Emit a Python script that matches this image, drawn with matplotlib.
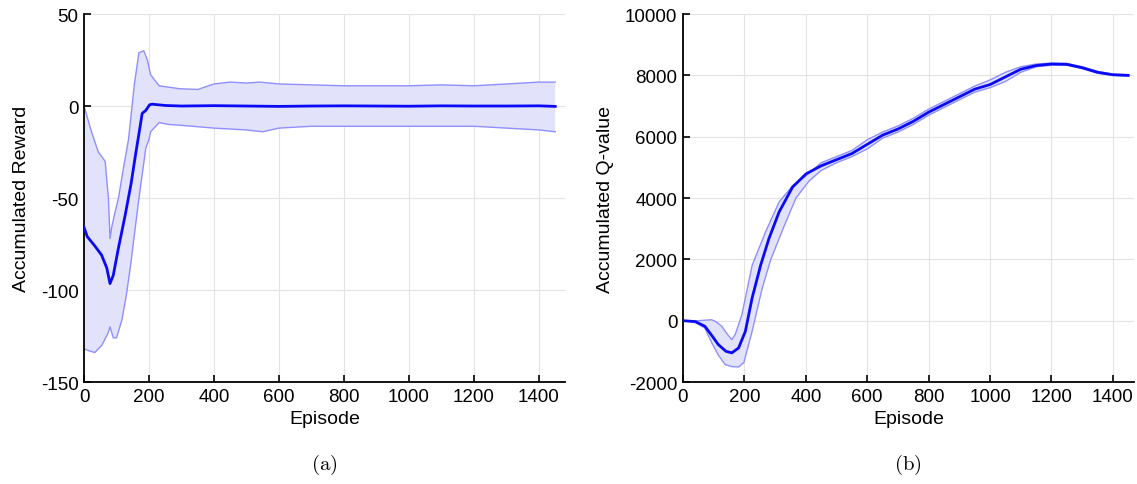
import matplotlib.pyplot as plt
import numpy as np

# (a) accumulated reward: mean curve and band edges
rew_ep = [0, 10, 33, 54, 70, 80, 90, 105, 127, 145, 158, 170, 179, 190, 202, 210,
          250, 300, 400, 500, 600, 700, 800, 900, 1000, 1100, 1200, 1300, 1400, 1450]
rew_mean = [-66, -71, -76, -81, -88, -96.5, -92, -78, -59, -42, -27, -14, -4, -2.4, 0.7, 1,
            0.3, 0, 0.2, 0, -0.2, 0, 0.1, 0, -0.1, 0.1, 0, 0, 0.1, -0.2]

up_ep = [0, 23, 44, 65, 75, 80, 85, 95, 106, 120, 137, 155, 169, 184, 195, 205,
         231, 294, 350, 400, 450, 500, 540, 600, 700, 800, 900, 1000, 1100,
         1200, 1300, 1400, 1450]
rew_upper = [0, -14, -25, -30, -50, -72, -66, -58, -50, -35, -18, 12, 29, 30, 25, 17,
             11, 9.4, 9, 12, 13, 12.5, 13, 12, 11.5, 11, 11, 11, 11.5,
             11, 12, 13, 13]

lo_ep = [0, 15, 33, 55, 75, 80, 90, 100, 117, 130, 143, 155, 169, 180, 190, 200, 205,
         231, 260, 300, 400, 500, 550, 600, 700, 800, 900, 1000, 1100, 1200, 1300, 1400, 1450]
rew_lower = [-132, -133, -134, -130, -123, -120, -126, -126, -116, -103, -87, -70, -50,
             -36, -23, -18, -14, -9, -10, -10.5, -12, -13, -14, -12, -11, -11, -11, -11,
             -11, -11, -12, -13, -14]

# (b) accumulated Q-value
q_ep = [0, 40, 71, 95, 115, 140, 159, 181, 203, 225, 253, 280, 313, 357, 401,
        450, 500, 550, 600, 650, 700, 750, 800, 850, 900, 950, 1000, 1050, 1100,
        1150, 1200, 1250, 1300, 1350, 1400, 1450]
q_mean = [0, -30, -180, -500, -780, -1000, -1050, -890, -350, 735, 1815, 2680, 3545, 4360,
          4790, 5050, 5250, 5450, 5750, 6050, 6250, 6500, 6800, 7050, 7300, 7550,
          7700, 7950, 8200, 8320, 8370, 8360, 8250, 8100, 8020, 8000]

qu_ep = [0, 50, 93, 110, 126, 145, 159, 170, 192, 225, 269, 313, 357, 401, 450,
         500, 550, 600, 650, 700, 750, 800, 850, 900, 950, 1000, 1050, 1100, 1150,
         1200, 1250, 1300, 1350, 1400, 1450]
q_upper = [0, 0, 30, -50, -180, -450, -620, -450, 200, 1800, 2900, 3870, 4400, 4730,
           5150, 5350, 5550, 5900, 6150, 6350, 6600, 6900, 7150, 7400, 7650, 7850, 8100,
           8280, 8370, 8400, 8390, 8280, 8130, 8040, 8020]

ql_ep = [0, 40, 71, 95, 115, 137, 160, 181, 198, 225, 258, 286, 330, 368, 410, 450, 500,
         550, 600, 650, 700, 750, 800, 850, 900, 950, 1000, 1050, 1100, 1150, 1200,
         1250, 1300, 1350, 1400, 1450]
q_lower = [0, -60, -240, -750, -1120, -1430, -1500, -1510, -1370, -350, 1060, 2000, 3100,
           4000, 4550, 4900, 5150, 5350, 5600, 5950, 6150, 6400, 6700, 6950, 7200, 7450,
           7600, 7800, 8100, 8280, 8330, 8330, 8220, 8070, 8000, 7980]

plt.rcParams['font.family'] = ['Liberation Sans', 'DejaVu Sans']
plt.rcParams['mathtext.fontset'] = 'cm'
plt.rcParams['axes.unicode_minus'] = False

fig = plt.figure(figsize=(11.37, 4.85), dpi=100)
ax1 = fig.add_axes([0.0739, 0.2103, 0.423, 0.7587])
ax2 = fig.add_axes([0.6007, 0.2103, 0.397, 0.7587])

line_c = '#0a0af5'
band_edge = '#8f8fff'
band_fill = '#e2e2fb'


def band_poly(ep_u, up, ep_l, lo):
    # polygon from upper edge forward and lower edge backward
    xs = list(ep_u) + list(ep_l)[::-1]
    ys = list(up) + list(lo)[::-1]
    return xs, ys


for ax, (eu, u, el, l, em, m) in [
    (ax1, (up_ep, rew_upper, lo_ep, rew_lower, rew_ep, rew_mean)),
    (ax2, (qu_ep, q_upper, ql_ep, q_lower, q_ep, q_mean)),
]:
    xs, ys = band_poly(eu, u, el, l)
    ax.fill(xs, ys, color=band_fill, lw=0, zorder=1)
    ax.plot(eu, u, color=band_edge, lw=1.0, zorder=2)
    ax.plot(el, l, color=band_edge, lw=1.0, zorder=2)
    ax.plot(em, m, color=line_c, lw=2.0, zorder=3)
    ax.grid(True, color='#e3e3e3', lw=0.8)
    ax.set_axisbelow(True)
    for s in ['top', 'right']:
        ax.spines[s].set_visible(False)
    for s in ['left', 'bottom']:
        ax.spines[s].set_linewidth(1.3)
    ax.tick_params(direction='in', length=5, width=1.2, labelsize=13.5, pad=4)
    ax.set_xticks(np.arange(0, 1401, 200))
    ax.set_xlabel('Episode', fontsize=14, labelpad=4)

ax1.set_xlim(0, 1480)
ax1.set_ylim(-150, 50)
ax1.set_yticks([-150, -100, -50, 0, 50])
ax1.set_ylabel('Accumulated Reward', fontsize=14, labelpad=8)

ax2.set_xlim(0, 1470)
ax2.set_ylim(-2000, 10000)
ax2.set_yticks(np.arange(-2000, 10001, 2000))
ax2.set_ylabel('Accumulated Q-value', fontsize=14, labelpad=8)

fig.text(324 / 1137, 1 - 465 / 485, r'$\mathrm{(a)}$', fontsize=15, ha='center', va='center')
fig.text(908 / 1137, 1 - 465 / 485, r'$\mathrm{(b)}$', fontsize=15, ha='center', va='center')

fig.savefig('out.png', dpi=100)
